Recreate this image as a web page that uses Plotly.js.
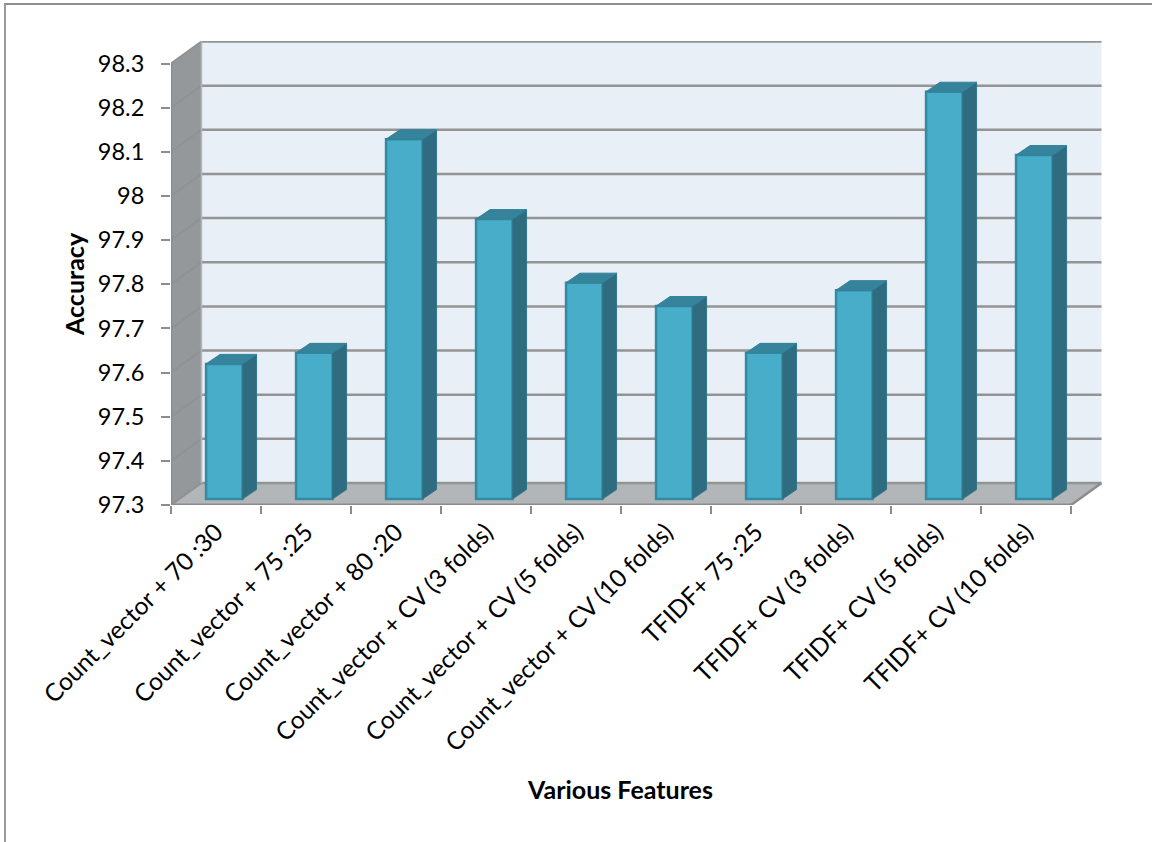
<!DOCTYPE html>
<html>
<head>
<meta charset="utf-8">
<script src="https://cdn.plot.ly/plotly-3.0.1.min.js"></script>
<style>
  html, body { margin: 0; padding: 0; background: #fff; overflow: hidden; }
  #chart { position: absolute; left: 0; top: 0; width: 1152px; height: 842px; }
  #frame { position: absolute; left: 4px; top: 3px; width: 1146px; height: 850px;
           border-top: 2px solid #8f8f8f; border-left: 2px solid #9a9a9a; border-right: 1px solid #e4e4e4;
           pointer-events: none; }
</style>
</head>
<body>
<div id="chart"></div>
<div id="frame"></div>
<script>
const categories = [
  "Count_vector + 70 :30", "Count_vector + 75 :25", "Count_vector + 80 :20",
  "Count_vector + CV (3 folds)", "Count_vector + CV (5 folds)", "Count_vector + CV (10 folds)",
  "TFIDF+ 75 :25", "TFIDF+ CV (3 folds)", "TFIDF+ CV (5 folds)", "TFIDF+ CV (10 folds)"
];
const accuracy = [97.606, 97.631, 98.115, 97.934, 97.79, 97.737, 97.631, 97.773, 98.2225, 98.079];
const yTicks = [97.3, 97.4, 97.5, 97.6, 97.7, 97.8, 97.9, 98, 98.1, 98.2, 98.3];
const yTickText = ["97.3", "97.4", "97.5", "97.6", "97.7", "97.8", "97.9", "98", "98.1", "98.2", "98.3"];
const xAxisTitle = "Various Features";
const yAxisTitle = "Accuracy";

// Plot box in pixels and the oblique projection used for the 3-D look.
const M = { l: 171, r: 50, t: 41, b: 337 };
const pxPerCat = 90, pxPerUnit = 441.5;
const plotW = 1152 - M.l - M.r, plotH = 842 - M.t - M.b;
const xMin = -0.5, xMax = xMin + plotW / pxPerCat;
const yMin = 97.3, yMax = yMin + plotH / pxPerUnit;
const yTop = yTicks[yTicks.length - 1];
const xEnd = categories.length - 0.5;

const dx = px => px / pxPerCat;
const dy = px => px / pxPerUnit;

const wallDX = dx(30.5), wallDY = dy(22);      // depth of the chart box
const barDX = dx(14), barDY = dy(9.5);         // depth of one bar
const barInX = dx(8.3), barInY = dy(6);        // front of the bars sits this far inside the box
const barW = 36.5 / pxPerCat;

const grey = "#8c8c8c";

// Walls, floor and gridlines go under the bars.
const shapes = [];
const poly = (pts, fill, line) => shapes.push({
  type: "path", xref: "x", yref: "y", layer: "below", fillcolor: fill,
  line: { width: line ? 2 : 0, color: line || fill },
  path: "M" + pts.map(p => p[0] + "," + p[1]).join("L") + "Z"
});
const seg = (x0, y0, x1, y1, w, c) => shapes.push({
  type: "line", xref: "x", yref: "y", layer: "below", x0, y0, x1, y1,
  line: { width: w, color: c }
});

poly([[xMin + wallDX, yMin + wallDY], [xEnd + wallDX, yMin + wallDY], [xEnd + wallDX, yTop + wallDY], [xMin + wallDX, yTop + wallDY]], "#e8eff6");
poly([[xMin, yMin], [xMin + wallDX, yMin + wallDY], [xMin + wallDX, yTop + wallDY], [xMin, yTop]], "#95989b");
poly([[xMin, yMin], [xEnd, yMin], [xEnd + wallDX, yMin + wallDY], [xMin + wallDX, yMin + wallDY]], "#b2b6b9");

yTicks.forEach(v => {
  seg(xMin, v, xMin + wallDX, v + wallDY, 2, "#8f9295");
  seg(xMin + wallDX, v + wallDY, xEnd + wallDX, v + wallDY, 2.5, "#949494");
});
seg(xMin, yMin, xMin, yTop, 2.5, grey);
seg(xMin, yMin, xEnd, yMin, 3, grey);
seg(xEnd, yMin, xEnd + wallDX, yMin + wallDY, 2.5, grey);
seg(xMin + wallDX, yMin + wallDY, xMin + wallDX, yTop + wallDY, 1.5, "#b5b8bb");

// Side and top faces of the bars, projected from the same values as the fronts.
const sideX = [], sideY = [], topX = [], topY = [];
accuracy.forEach((v, i) => {
  const l = i + barInX - barW / 2, r = l + barW;
  const b = yMin + barInY, t = v + barInY;
  sideX.push(r, r + barDX, r + barDX, r, r, null);
  sideY.push(b, b + barDY, t + barDY, t, b, null);
  topX.push(l, l + barDX, r + barDX, r, l, null);
  topY.push(t, t + barDY, t + barDY, t, t, null);
});

const traces = [
  {
    type: "bar", x: categories,
    y: accuracy.map(v => v - yMin),
    base: yMin + barInY,
    width: barW, offset: barInX - barW / 2,
    marker: { color: "#47adc9", line: { color: "#348aa3", width: 2.5 } },
    customdata: accuracy, hovertemplate: "%{x}: %{customdata}<extra></extra>"
  },
  {
    type: "scatter", mode: "lines", xaxis: "x2", yaxis: "y", x: sideX, y: sideY,
    fill: "toself", fillcolor: "#2f6c7f", line: { color: "#32778c", width: 1 }, hoverinfo: "skip"
  },
  {
    type: "scatter", mode: "lines", xaxis: "x2", yaxis: "y", x: topX, y: topY,
    fill: "toself", fillcolor: "#36849c", line: { color: "#32809a", width: 1 }, hoverinfo: "skip"
  }
];

const layout = {
  width: 1152, height: 842,
  margin: M,
  paper_bgcolor: "#ffffff", plot_bgcolor: "rgba(0,0,0,0)",
  showlegend: false, barmode: "overlay",
  font: { family: "Lato, sans-serif", color: "#000" },
  shapes,
  xaxis: {
    type: "category", categoryorder: "array", categoryarray: categories,
    range: [xMin, xMax], tickson: "boundaries", ticks: "outside", ticklen: 8, tickwidth: 2, tickcolor: "#8c8c8c",
    tickangle: -45, tickfont: { size: 24.5 }, showgrid: false, zeroline: false, showline: false,
    fixedrange: true, automargin: false, ticklabelstandoff: 7
  },
  xaxis2: { overlaying: "x", range: [xMin, xMax], visible: false, fixedrange: true },
  yaxis: {
    range: [yMin, yMax], tickmode: "array", tickvals: yTicks, ticktext: yTickText,
    ticks: "outside", ticklen: 9, tickwidth: 2, tickcolor: "#8c8c8c",
    tickfont: { size: 23.5 }, showgrid: false, zeroline: false, showline: false,
    fixedrange: true, automargin: false, ticklabelstandoff: 12, ticklabelshift: -1.5
  },
  annotations: [
    {
      text: "<b>" + xAxisTitle + "</b>", showarrow: false, xref: "paper", yref: "paper",
      x: (620 - M.l) / plotW, y: (842 - M.b - 789) / plotH, xanchor: "center", yanchor: "middle",
      font: { size: 25 }
    },
    {
      text: "<b>" + yAxisTitle + "</b>", showarrow: false, xref: "paper", yref: "paper", textangle: -90,
      x: (74 - M.l) / plotW, y: (842 - M.b - 284) / plotH, xanchor: "center", yanchor: "middle",
      font: { size: 25 }
    }
  ]
};

Plotly.newPlot("chart", traces, layout, { displayModeBar: false, staticPlot: true });
</script>
</body>
</html>
